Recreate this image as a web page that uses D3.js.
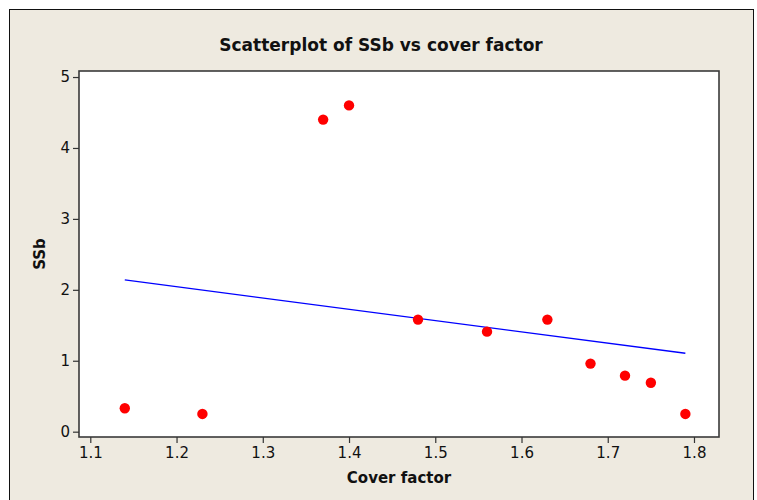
<!DOCTYPE html>
<html>
<head>
<meta charset="utf-8">
<script src="https://cdn.jsdelivr.net/npm/d3@7"></script>
<style>
  html, body { margin: 0; padding: 0; background: #ffffff; }
  svg { display: block; }
  text { font-family: "DejaVu Sans", sans-serif; fill: #111; }
  .tick text { font-size: 15px; }
</style>
</head>
<body>
<svg id="chart" width="757" height="500"></svg>
<script>
// Observations
const coverFactor = [1.14, 1.23, 1.37, 1.40, 1.48, 1.56, 1.63, 1.68, 1.72, 1.75, 1.79];
const ssb         = [0.33, 0.25, 4.40, 4.60, 1.58, 1.41, 1.58, 0.96, 0.79, 0.69, 0.25];

// Axis ticks
const xTicks = [1.1, 1.2, 1.3, 1.4, 1.5, 1.6, 1.7, 1.8];
const yTicks = [0, 1, 2, 3, 4, 5];

const titleText = "Scatterplot of SSb vs cover factor";
const xLabel = "Cover factor";
const yLabel = "SSb";

const W = 757, H = 500;
const plot = { left: 79, right: 719, top: 71, bottom: 437 };

const svg = d3.select("#chart");

// Outer panel
svg.append("rect")
  .attr("x", 9.5).attr("y", 9.5)
  .attr("width", 744).attr("height", H)
  .attr("fill", "#eeeae0")
  .attr("stroke", "#111").attr("stroke-width", 1);

// Scales
const x = d3.scaleLinear().domain([1.0869, 1.829]).range([plot.left, plot.right]);
const y = d3.scaleLinear().domain([-0.075, 5.085]).range([plot.bottom, plot.top]);

// Plot area
svg.append("rect")
  .attr("x", plot.left).attr("y", plot.top)
  .attr("width", plot.right - plot.left).attr("height", plot.bottom - plot.top)
  .attr("fill", "#ffffff")
  .attr("stroke", "#3a3a3a").attr("stroke-width", 1.6);

// Axes
const xAxis = d3.axisBottom(x).tickValues(xTicks).tickFormat(d3.format(".1f"))
  .tickSize(6).tickSizeOuter(0).tickPadding(4);
const yAxis = d3.axisLeft(y).tickValues(yTicks).tickFormat(d3.format("d"))
  .tickSize(6).tickSizeOuter(0).tickPadding(3);

const gx = svg.append("g").attr("transform", `translate(0,${plot.bottom})`).call(xAxis);
const gy = svg.append("g").attr("transform", `translate(${plot.left},0)`).call(yAxis);
[gx, gy].forEach(g => {
  g.attr("font-family", null).attr("font-size", null);
  g.select(".domain").remove();
  g.selectAll(".tick line").attr("stroke", "#333").attr("stroke-width", 1.2);
  g.selectAll(".tick text").attr("fill", "#111");
});

// Least-squares fitted line over the range of the data
const n = coverFactor.length;
const mx = d3.mean(coverFactor), my = d3.mean(ssb);
let sxy = 0, sxx = 0;
for (let i = 0; i < n; i++) {
  sxy += (coverFactor[i] - mx) * (ssb[i] - my);
  sxx += (coverFactor[i] - mx) ** 2;
}
const slope = sxy / sxx, intercept = my - slope * mx;
const [x0, x1] = d3.extent(coverFactor);
const fit = [[x0, intercept + slope * x0], [x1, intercept + slope * x1]];

svg.append("path")
  .datum(fit)
  .attr("d", d3.line().x(d => x(d[0])).y(d => y(d[1])))
  .attr("fill", "none")
  .attr("stroke", "#0000ff")
  .attr("stroke-width", 1.3);

// Points
svg.append("g")
  .selectAll("circle")
  .data(coverFactor.map((c, i) => ({ c, s: ssb[i] })))
  .join("circle")
  .attr("cx", d => x(d.c))
  .attr("cy", d => y(d.s))
  .attr("r", 5.2)
  .attr("fill", "#ff0000");

// Title and axis labels
svg.append("text")
  .attr("x", 381).attr("y", 51)
  .attr("text-anchor", "middle")
  .style("font-size", "17px").attr("font-weight", "bold")
  .text(titleText);

svg.append("text")
  .attr("x", (plot.left + plot.right) / 2).attr("y", 483)
  .attr("text-anchor", "middle")
  .style("font-size", "15px").attr("font-weight", "bold")
  .text(xLabel);

svg.append("text")
  .attr("transform", `translate(45,${(plot.top + plot.bottom) / 2}) rotate(-90)`)
  .attr("text-anchor", "middle")
  .style("font-size", "15px").attr("font-weight", "bold")
  .text(yLabel);
</script>
</body>
</html>
